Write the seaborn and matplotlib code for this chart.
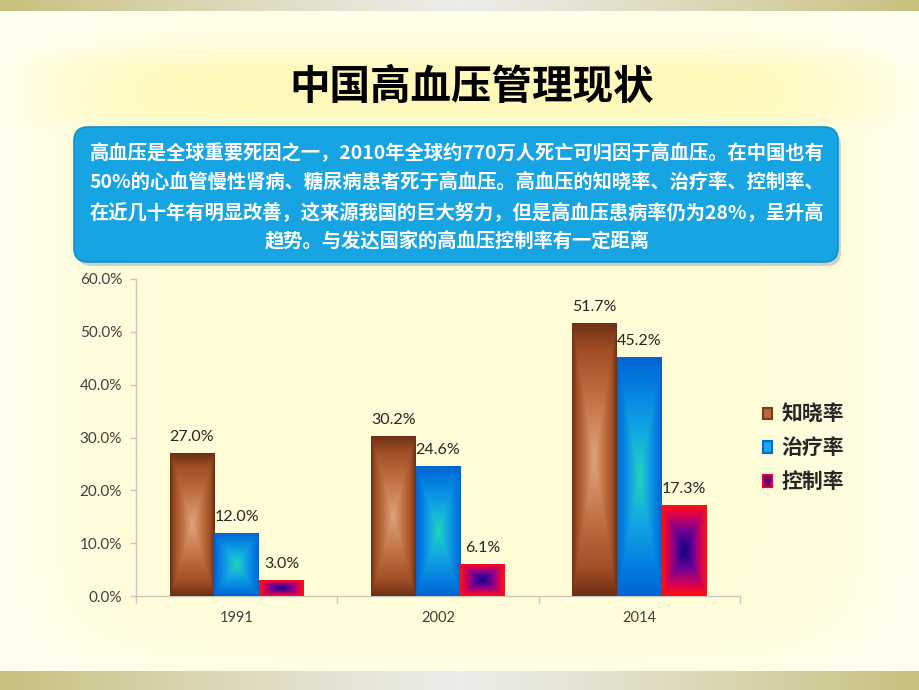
import numpy as np
import pandas as pd
import matplotlib
matplotlib.use("Agg")
import matplotlib.pyplot as plt
import seaborn as sns
from matplotlib.patches import FancyBboxPatch, Patch
from matplotlib.ticker import FixedLocator, FuncFormatter

# ---------------- data ----------------
years = ["1991", "2002", "2014"]
metrics = ["知晓率", "治疗率", "控制率"]
awareness = [27.0, 30.2, 51.7]
treatment = [12.0, 24.6, 45.2]
control = [3.0, 6.1, 17.3]
y_ticks = [0, 10, 20, 30, 40, 50, 60]
title_text = "中国高血压管理现状"
box_lines = [
    "高血压是全球重要死因之一，2010年全球约770万人死亡可归因于高血压。在中国也有",
    "50%的心血管慢性肾病、糖尿病患者死于高血压。高血压的知晓率、治疗率、控制率、",
    "在近几十年有明显改善，这来源我国的巨大努力，但是高血压患病率仍为28%，呈升高",
    "趋势。与发达国家的高血压控制率有一定距离",
]

df = pd.DataFrame({
    "year": years * 3,
    "metric": [metrics[0]] * 3 + [metrics[1]] * 3 + [metrics[2]] * 3,
    "value": awareness + treatment + control,
})

# gradient ramps: (t positions, colours) t=0 centre, t=1 edge
ramps = {
    metrics[0]: ([0.0, 0.45, 0.8, 1.0],
                 [(222, 165, 125), (192, 112, 66), (160, 78, 38), (108, 48, 20)]),
    metrics[1]: ([0.0, 0.35, 0.7, 1.0],
                 [(30, 215, 185), (20, 170, 225), (5, 132, 226), (0, 100, 210)]),
    metrics[2]: ([0.0, 0.4, 0.75, 1.0],
                 [(15, 0, 130), (110, 0, 150), (215, 0, 85), (255, 20, 10)]),
}
legend_face = {metrics[0]: "#B86A3C", metrics[1]: "#1AA8E8", metrics[2]: "#6A007F"}
legend_edge = {metrics[0]: "#7A3A18", metrics[1]: "#0868D0", metrics[2]: "#E8002A"}

sns.set_theme(style="white")
CJK = ["Noto Sans CJK SC", "DejaVu Sans"]
NUM = ["Lato", "DejaVu Sans"]
plt.rcParams["font.family"] = CJK

W, H = 920, 690
fig = plt.figure(figsize=(9.2, 6.9), dpi=100)

# ---------------- background layer (pixel coords) ----------------
bg = fig.add_axes([0, 0, 1, 1], zorder=0)
bg.set_xlim(0, W)
bg.set_ylim(H, 0)
bg.axis("off")

yy, xx = np.mgrid[0:H, 0:W].astype(float)
edge_c = np.array([255, 255, 240]) / 255
mid_c = np.array([255, 252, 215]) / 255
vign = np.clip((np.abs(xx - W / 2) / (W / 2)) ** 6 + (np.abs(yy - H / 2) / (H / 2)) ** 8, 0, 1)
img = mid_c[None, None, :] * (1 - vign[..., None]) + edge_c[None, None, :] * vign[..., None]
glow = np.exp(-((np.abs(xx - 460) / 400) ** 6 + (np.abs(yy - 88) / 34) ** 4))
glow_c = np.array([255, 248, 178]) / 255
img = img * (1 - 0.8 * glow[..., None]) + glow_c[None, None, :] * 0.8 * glow[..., None]
bg.imshow(img, extent=(0, W, H, 0), aspect="auto", zorder=0, interpolation="bilinear")

# top / bottom strips
xs = np.linspace(-1, 1, W)
strip_t = np.abs(xs) ** 1.2
s_edge = np.array([200, 192, 125]) / 255
s_mid = np.array([236, 236, 232]) / 255
strip = s_mid[None, :] * (1 - strip_t[:, None]) + s_edge[None, :] * strip_t[:, None]
strip = strip[None, :, :]
bg.imshow(strip, extent=(0, W, 11, 0), aspect="auto", zorder=1)
bg.imshow(strip, extent=(0, W, H, 671), aspect="auto", zorder=1)

# title
bg.text(472, 87, title_text, ha="center", va="center", fontsize=29.2,
        fontweight="bold", color="black", family=CJK, zorder=3)

# blue box with shadow
shadow = FancyBboxPatch((77, 131), 764, 135, boxstyle="round,pad=0,rounding_size=14",
                        facecolor="#9AA0A0", edgecolor="none", alpha=0.45, zorder=2)
bg.add_patch(shadow)
box = FancyBboxPatch((74, 127), 764, 135, boxstyle="round,pad=0,rounding_size=14",
                     facecolor="#17A4E2", edgecolor="#1190CC", linewidth=1.2, zorder=3)
bg.add_patch(box)
for yline, line in zip([153, 183, 213, 242], box_lines):
    bg.text(457, yline, line, ha="center", va="center", fontsize=13.9,
            fontweight="bold", color="white", family=CJK, zorder=4)

# ---------------- chart ----------------
ax = fig.add_axes([136 / W, 94 / H, (740 - 136) / W, (596 - 279) / H], zorder=2)
ax.patch.set_alpha(0)
sns.barplot(data=df, x="year", y="value", hue="metric", hue_order=metrics,
            order=years, palette=legend_face, width=0.667, ax=ax, legend=False,
            edgecolor="none", linewidth=0)
ax.set_xlim(-0.5, 2.5)
ax.set_ylim(0, 60)
ax.set_xlabel("")
ax.set_ylabel("")

for sp in ["top", "right"]:
    ax.spines[sp].set_visible(False)
for sp in ["left", "bottom"]:
    ax.spines[sp].set_color("#C8C8C0")
    ax.spines[sp].set_linewidth(1.0)

ax.yaxis.set_major_locator(FixedLocator(y_ticks))
ax.yaxis.set_major_formatter(FuncFormatter(lambda v, p: f"{v:.1f}%"))
ax.tick_params(axis="y", which="major", length=4, width=1, color="#C8C8C0",
               labelsize=11, labelcolor="#404040", pad=6, left=True)
ax.set_xticks(range(len(years)))
ax.set_xticklabels(years)
ax.tick_params(axis="x", which="major", length=0, labelsize=10.5,
               labelcolor="#404040", pad=11)
ax.set_xticks([-0.5, 0.5, 1.5, 2.5], minor=True)
ax.tick_params(axis="x", which="minor", length=5, width=1, color="#C8C8C0", bottom=True)
for lab in ax.get_xticklabels() + ax.get_yticklabels():
    lab.set_family(NUM)

fig.canvas.draw()
to_px = ax.transData


def ramp_colour(t, stops, cols):
    cols = np.array(cols) / 255.0
    return np.stack([np.interp(t, stops, cols[:, k]) for k in range(3)], axis=-1)


for metric, cont in zip(metrics, ax.containers):
    stops, cols = ramps[metric]
    for bar in cont:
        x0, w, h = bar.get_x(), bar.get_width(), bar.get_height()
        p0 = to_px.transform((x0, 0))
        p1 = to_px.transform((x0 + w, h))
        wpx, hpx = abs(p1[0] - p0[0]), abs(p1[1] - p0[1])
        nx, ny = max(int(wpx * 2), 4), max(int(hpx * 2), 4)
        u = np.linspace(-1, 1, nx)[None, :]
        v = np.linspace(-1, 1, ny)[:, None]
        t = np.maximum(np.abs(u), np.abs(v))
        im = ramp_colour(t, stops, cols)
        art = ax.imshow(im, extent=(x0, x0 + w, 0, h), origin="lower",
                        aspect="auto", interpolation="bilinear", zorder=3)
        art.set_clip_path(bar)
        ax.annotate(f"{h:.1f}%", (x0 + w / 2, h), xytext=(0, 11.5),
                    textcoords="offset points", ha="center", va="center",
                    fontsize=11.5, color="#262626", family=NUM, zorder=5)

ax.set_xlim(-0.5, 2.5)
ax.set_ylim(0, 60)

handles = [Patch(facecolor=legend_face[m], edgecolor=legend_edge[m], linewidth=1.5)
           for m in metrics]
fig.legend(handles, metrics, loc="center left", bbox_to_anchor=(744 / W, 1 - 448 / H),
           frameon=False, prop={"family": CJK, "weight": "bold", "size": 15},
           handlelength=0.45, handleheight=0.45, labelspacing=0.62, handletextpad=0.45)

fig.savefig("out.png", dpi=100)
